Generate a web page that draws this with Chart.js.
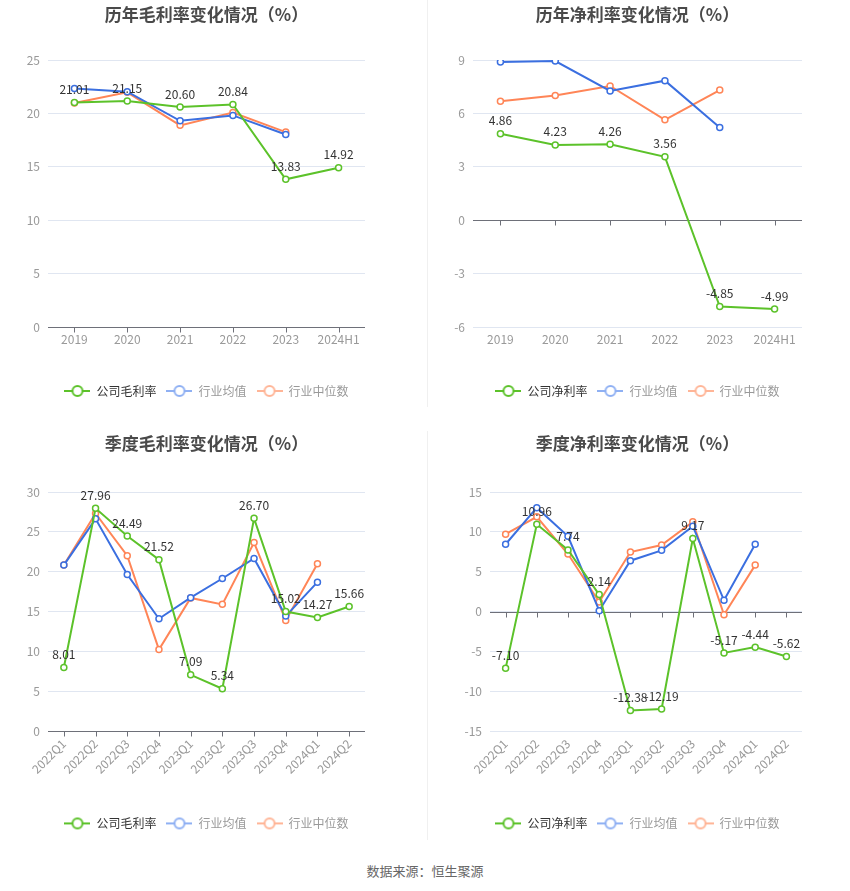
<!DOCTYPE html>
<html>
<head>
<meta charset="utf-8">
<script src="https://cdn.jsdelivr.net/npm/chart.js@4.4.1/dist/chart.umd.min.js"></script>
<style>
  html, body { margin: 0; padding: 0; background: #fff; }
  body { width: 850px; height: 891px; position: relative; overflow: hidden; }
  .box { position: absolute; }
  .divider { position: absolute; width: 1px; background: #f0f0f0; }
  .source { position: absolute; left: 0; top: 861px; width: 850px; text-align: center;
            font: 13px "Noto Sans CJK SC", sans-serif; color: #666; }
</style>
</head>
<body>
<div class="box" style="left:0;top:0;width:413px;height:410px"><canvas id="yearGross"></canvas></div>
<div class="box" style="left:425px;top:0;width:425px;height:410px"><canvas id="yearNet"></canvas></div>
<div class="box" style="left:0;top:430px;width:413px;height:415px"><canvas id="quarterGross"></canvas></div>
<div class="box" style="left:425px;top:430px;width:425px;height:415px"><canvas id="quarterNet"></canvas></div>
<div class="divider" style="left:427px;top:0;height:407px"></div>
<div class="divider" style="left:427px;top:431px;height:409px"></div>
<div class="source">数据来源：恒生聚源</div>

<script>
// categories
const yearLabels = ['2019', '2020', '2021', '2022', '2023', '2024H1'];
const quarterLabels = ['2022Q1', '2022Q2', '2022Q3', '2022Q4', '2023Q1', '2023Q2', '2023Q3', '2023Q4', '2024Q1', '2024Q2'];

// 历年毛利率
const yearGrossCompany = [21.01, 21.15, 20.60, 20.84, 13.83, 14.92];
const yearGrossAvg = [22.34, 22.03, 19.31, 19.81, 18.03, null];
const yearGrossMedian = [20.97, 21.97, 18.88, 20.09, 18.25, null];

// 历年净利率
const yearNetCompany = [4.86, 4.23, 4.26, 3.56, -4.85, -4.99];
const yearNetAvg = [8.89, 8.94, 7.26, 7.84, 5.21, null];
const yearNetMedian = [6.68, 7.01, 7.54, 5.64, 7.31, null];

// 季度毛利率
const quarterGrossCompany = [8.01, 27.96, 24.49, 21.52, 7.09, 5.34, 26.70, 15.02, 14.27, 15.66];
const quarterGrossAvg = [20.84, 26.64, 19.66, 14.12, 16.76, 19.16, 21.68, 14.45, 18.70, null];
const quarterGrossMedian = [20.84, 27.31, 22.02, 10.25, 16.72, 15.92, 23.66, 13.91, 21.01, null];

// 季度净利率
const quarterNetCompany = [-7.10, 10.96, 7.74, 2.14, -12.38, -12.19, 9.17, -5.17, -4.44, -5.62];
const quarterNetAvg = [8.45, 13.03, 9.45, 0.13, 6.39, 7.69, 10.71, 1.43, 8.45, null];
const quarterNetMedian = [9.71, 11.89, 7.23, 1.22, 7.48, 8.36, 11.26, -0.38, 5.84, null];

const FONT = '"Noto Sans CJK SC", "Noto Sans", sans-serif';
const GREEN = '#5cc22a';
const BLUE = '#3b6fe0';
const ORANGE = '#ff8557';

Chart.defaults.font.family = FONT;

// legend icon: short line with a hollow circle in the middle
function legendIcon(color) {
    const c = document.createElement('canvas');
    c.width = 26;
    c.height = 14;
    const g = c.getContext('2d');
    g.strokeStyle = color;
    g.lineWidth = 2;
    g.beginPath();
    g.moveTo(0, 7);
    g.lineTo(26, 7);
    g.stroke();
    g.beginPath();
    g.arc(13, 7, 5, 0, Math.PI * 2);
    g.fillStyle = '#fff';
    g.fill();
    g.stroke();
    return c;
}

const legendStyles = [
    { icon: legendIcon(GREEN), text: '#333' },
    { icon: legendIcon('#8fb0f3'), text: '#999' },
    { icon: legendIcon('#ffb597'), text: '#999' }
];

// x axis line at zero with small tick marks
const zeroAxis = {
    id: 'zeroAxis',
    beforeDatasetsDraw(chart) {
        const { ctx, chartArea, scales } = chart;
        const y = Math.round(scales.y.getPixelForValue(0)) + 0.5;
        ctx.save();
        ctx.strokeStyle = '#6e7079';
        ctx.lineWidth = 1;
        ctx.beginPath();
        ctx.moveTo(chartArea.left, y);
        ctx.lineTo(chartArea.right, y);
        chart.data.labels.forEach((_, i) => {
            const x = Math.round(scales.x.getPixelForValue(i)) + 0.5;
            ctx.moveTo(x, y);
            ctx.lineTo(x, y + 5);
        });
        ctx.stroke();
        ctx.restore();
    }
};

// value labels above the company series
const valueLabels = {
    id: 'valueLabels',
    afterDatasetsDraw(chart) {
        const { ctx } = chart;
        const values = chart.data.datasets[0].data;
        const meta = chart.getDatasetMeta(0);
        ctx.save();
        ctx.font = '12px ' + FONT;
        ctx.fillStyle = '#333';
        ctx.textAlign = 'center';
        ctx.textBaseline = 'bottom';
        meta.data.forEach((pt, i) => {
            if (values[i] == null) return;
            ctx.fillText(values[i].toFixed(2), pt.x, pt.y - 7);
        });
        ctx.restore();
    }
};

function lineSet(label, data, color) {
    return {
        label: label,
        data: data,
        borderColor: color,
        backgroundColor: color,
        borderWidth: 2,
        tension: 0,
        pointRadius: 3,
        pointBorderWidth: 1.5,
        pointBackgroundColor: '#fff',
        pointBorderColor: color,
        spanGaps: false
    };
}

function makeChart(id, opt) {
    return new Chart(document.getElementById(id), {
        type: 'line',
        data: {
            labels: opt.labels,
            datasets: [
                lineSet(opt.companyName, opt.company, GREEN),
                lineSet('行业均值', opt.avg, BLUE),
                lineSet('行业中位数', opt.median, ORANGE)
            ]
        },
        plugins: [zeroAxis, valueLabels],
        options: {
            responsive: true,
            maintainAspectRatio: false,
            animation: false,
            layout: { padding: { left: 0, right: 0, top: 0, bottom: opt.padBottom } },
            plugins: {
                title: {
                    display: true,
                    text: opt.title,
                    color: '#4a4a4a',
                    font: { size: 17, weight: 'bold' },
                    padding: opt.titlePad
                },
                legend: {
                    position: 'bottom',
                    labels: {
                        usePointStyle: true,
                        pointStyleWidth: 26,
                        padding: 10,
                        font: { size: 12 },
                        generateLabels(chart) {
                            return chart.data.datasets.map((ds, i) => ({
                                text: ds.label,
                                datasetIndex: i,
                                pointStyle: legendStyles[i].icon,
                                fontColor: legendStyles[i].text,
                                fillStyle: ds.borderColor,
                                strokeStyle: ds.borderColor,
                                lineWidth: 0,
                                hidden: !chart.isDatasetVisible(i)
                            }));
                        }
                    }
                },
                tooltip: { enabled: false }
            },
            scales: {
                x: {
                    offset: true,
                    grid: { display: false, drawTicks: false, offset: false },
                    border: { display: false },
                    ticks: {
                        color: '#999',
                        font: { size: 12 },
                        padding: 5,
                        autoSkip: false,
                        maxRotation: opt.rotate,
                        minRotation: opt.rotate
                    },
                    afterFit(s) { s.height = opt.xHeight; }
                },
                y: {
                    min: opt.min,
                    max: opt.max,
                    grid: { color: '#e0e6f1', drawTicks: false },
                    border: { display: false },
                    ticks: {
                        stepSize: opt.step,
                        color: '#999',
                        font: { size: 12 },
                        padding: 8
                    },
                    afterFit(s) { s.width = opt.yWidth; }
                },
                right: {
                    type: 'linear',
                    position: 'right',
                    grid: { display: false },
                    border: { display: false },
                    ticks: { display: false },
                    afterFit(s) { s.width = 48; }
                }
            }
        }
    });
}

makeChart('yearGross', {
    title: '历年毛利率变化情况（%）',
    companyName: '公司毛利率',
    labels: yearLabels,
    company: yearGrossCompany, avg: yearGrossAvg, median: yearGrossMedian,
    min: 0, max: 25, step: 5,
    yWidth: 48, xHeight: 48, rotate: 0,
    titlePad: { top: 4, bottom: 35.6 }, padBottom: 3
});

makeChart('yearNet', {
    title: '历年净利率变化情况（%）',
    companyName: '公司净利率',
    labels: yearLabels,
    company: yearNetCompany, avg: yearNetAvg, median: yearNetMedian,
    min: -6, max: 9, step: 3,
    yWidth: 48, xHeight: 48, rotate: 0,
    titlePad: { top: 4, bottom: 35.6 }, padBottom: 3
});

makeChart('quarterGross', {
    title: '季度毛利率变化情况（%）',
    companyName: '公司毛利率',
    labels: quarterLabels,
    company: quarterGrossCompany, avg: quarterGrossAvg, median: quarterGrossMedian,
    min: 0, max: 30, step: 5,
    yWidth: 48, xHeight: 76, rotate: 45,
    titlePad: { top: 3, bottom: 38.6 }, padBottom: 5.6
});

makeChart('quarterNet', {
    title: '季度净利率变化情况（%）',
    companyName: '公司净利率',
    labels: quarterLabels,
    company: quarterNetCompany, avg: quarterNetAvg, median: quarterNetMedian,
    min: -15, max: 15, step: 5,
    yWidth: 65, xHeight: 76, rotate: 45,
    titlePad: { top: 3, bottom: 38.6 }, padBottom: 5.6
});
</script>
</body>
</html>
